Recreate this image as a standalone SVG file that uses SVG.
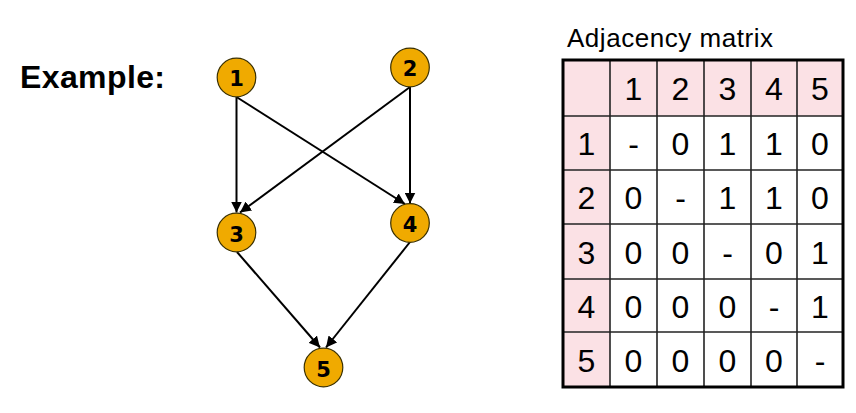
<svg xmlns="http://www.w3.org/2000/svg" width="856" height="413" viewBox="0 0 856 413">
<style>
.node circle{fill:#f0aa00;stroke:#3a3000;stroke-width:1.2}
.node text{font-family:"DejaVu Sans","Liberation Sans",sans-serif;font-weight:bold;font-size:21px;text-anchor:middle;fill:#000}
.edge{stroke:#000;stroke-width:2;fill:none;marker-end:url(#arr)}
.cell{font-family:"Liberation Sans",Arial,sans-serif;font-size:32px;text-anchor:middle;fill:#000}
.grid{stroke:#222;stroke-width:1.6}
.hdr{fill:#fbe1e5}
</style>
<defs>
<marker id="arr" viewBox="0 0 10 10" refX="10" refY="5" markerWidth="5.5" markerHeight="5.5" orient="auto" markerUnits="strokeWidth">
<path d="M0,0 L10,5 L0,10 z" fill="#000"/>
</marker>
</defs>
<rect width="856" height="413" fill="#fff"/>
<text x="20" y="88" font-family="Liberation Sans,Arial,sans-serif" font-weight="bold" font-size="32" textLength="145" fill="#000">Example:</text>
<g id="connectors">
<line class="edge" x1="236.5" y1="97" x2="236.5" y2="212.5"/>
<line class="edge" x1="236.5" y1="97" x2="405" y2="204"/>
<line class="edge" x1="410" y1="87" x2="240" y2="212.5"/>
<line class="edge" x1="410" y1="87" x2="410" y2="203.5"/>
<line class="edge" x1="237" y1="252" x2="320" y2="347.5"/>
<line class="edge" x1="410" y1="242" x2="326" y2="347.5"/>
</g>
<g id="node1" class="node"><circle cx="236.5" cy="77.5" r="19.3"/><text x="236.5" y="85.5">1</text></g>
<g id="node2" class="node"><circle cx="410" cy="67.5" r="19.3"/><text x="410" y="75.5">2</text></g>
<g id="node3" class="node"><circle cx="236.5" cy="232.5" r="19.3"/><text x="236.5" y="242">3</text></g>
<g id="node4" class="node"><circle cx="410" cy="223" r="19.3"/><text x="410" y="232">4</text></g>
<g id="node5" class="node"><circle cx="323.5" cy="367.5" r="19.3"/><text x="323.5" y="377">5</text></g>
<g id="matrix">
<text x="567" y="47" font-family="Liberation Sans,Arial,sans-serif" font-size="26" textLength="206" fill="#000">Adjacency matrix</text>
<rect x="563" y="60" width="280" height="327" fill="#fff"/>
<rect class="hdr" x="563" y="60" width="280" height="56"/>
<rect class="hdr" x="563" y="60" width="47" height="327"/>
<g class="grid">
<line x1="610" y1="60" x2="610" y2="387"/>
<line x1="657" y1="60" x2="657" y2="387"/>
<line x1="704" y1="60" x2="704" y2="387"/>
<line x1="751" y1="60" x2="751" y2="387"/>
<line x1="797" y1="60" x2="797" y2="387"/>
<line x1="563" y1="116" x2="843" y2="116"/>
<line x1="563" y1="170" x2="843" y2="170"/>
<line x1="563" y1="224" x2="843" y2="224"/>
<line x1="563" y1="279" x2="843" y2="279"/>
<line x1="563" y1="332" x2="843" y2="332"/>
</g>
<rect x="563" y="60" width="280" height="327" fill="none" stroke="#000" stroke-width="3"/>
<g class="cell">
<text x="633.5" y="100">1</text><text x="680.5" y="100">2</text><text x="727.5" y="100">3</text><text x="774" y="100">4</text><text x="820" y="100">5</text>
<text x="586.5" y="155">1</text><text x="633.5" y="155">-</text><text x="680.5" y="155">0</text><text x="727.5" y="155">1</text><text x="774" y="155">1</text><text x="820" y="155">0</text>
<text x="586.5" y="209">2</text><text x="633.5" y="209">0</text><text x="680.5" y="209">-</text><text x="727.5" y="209">1</text><text x="774" y="209">1</text><text x="820" y="209">0</text>
<text x="586.5" y="264">3</text><text x="633.5" y="264">0</text><text x="680.5" y="264">0</text><text x="727.5" y="264">-</text><text x="774" y="264">0</text><text x="820" y="264">1</text>
<text x="586.5" y="318">4</text><text x="633.5" y="318">0</text><text x="680.5" y="318">0</text><text x="727.5" y="318">0</text><text x="774" y="318">-</text><text x="820" y="318">1</text>
<text x="586.5" y="372">5</text><text x="633.5" y="372">0</text><text x="680.5" y="372">0</text><text x="727.5" y="372">0</text><text x="774" y="372">0</text><text x="820" y="372">-</text>
</g>
</g>
</svg>
